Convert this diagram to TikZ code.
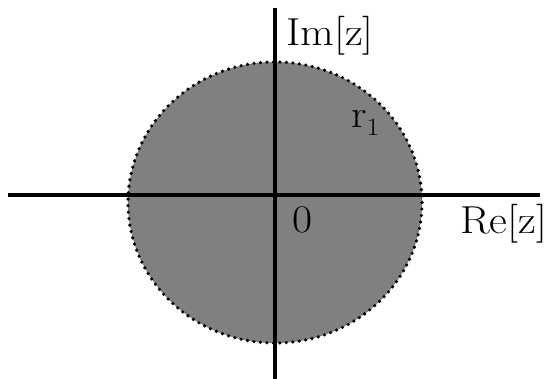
\documentclass[tikz,border=0pt]{standalone}
\newcommand{\widen}[1]{\scalebox{1.12}[1]{#1}}
\begin{document}
\begin{tikzpicture}[x=1pt,y=-1pt,
  axis/.style={line width=3.5pt},
  disk/.style={fill=black!50},
  rim/.style={line width=3.6pt, line cap=round, dash pattern=on 0pt off 6.5pt},
  lbl/.style={inner sep=0pt, anchor=base west, font=\fontsize{39}{42}\selectfont}]
\useasboundingbox (0,0) rectangle (549,379);
\coordinate (c) at (275,202.5);
\fill[disk] (c) ellipse [x radius=147, y radius=140.5];
\draw[rim] (c) ellipse [x radius=147, y radius=140.5];
\coordinate (xl) at (8,195);
\coordinate (xr) at (540,195);
\coordinate (yt) at (275,8);
\coordinate (yb) at (275,379);
\draw[axis] (xl) -- (xr);
\draw[axis] (yt) -- (yb);
\node[lbl] (im) at (286,46) {\widen{Im[z]}};
\node[lbl] (re) at (460,234) {\widen{Re[z]}};
\node[lbl] (zero) at (292,233) {\widen{0}};
\node[lbl] (r) at (351,128) {\widen{r$_1$}};
\end{tikzpicture}
\end{document}
